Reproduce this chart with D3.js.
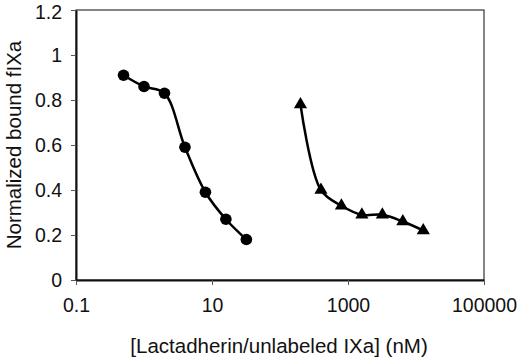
<!DOCTYPE html>
<html><head><meta charset="utf-8">
<script src="https://cdn.jsdelivr.net/npm/d3@7"></script>
<style>body{margin:0;background:#fff}svg{display:block}text{font-family:"Liberation Sans",Arial,sans-serif;fill:#111}</style>
</head><body>
<svg id="c" width="520" height="360"></svg>
<script>
const lactX = [0.5, 1, 2, 4, 8, 16, 32];
const lactY = [0.91, 0.86, 0.83, 0.59, 0.39, 0.27, 0.18];
const ixaX = [200, 400, 800, 1600, 3200, 6400, 12800];
const ixaY = [0.78, 0.40, 0.33, 0.29, 0.29, 0.26, 0.22];
const xTicks = [0.1, 10, 1000, 100000];
const yTicks = [0, 0.2, 0.4, 0.6, 0.8, 1, 1.2];

const svg = d3.select("#c");
const L = 76, R = 484, T = 10, B = 280;
const FS = 20.5, TFS = 19.5;
const x = d3.scaleLog().domain([0.1, 100000]).range([L, R]);
const y = d3.scaleLinear().domain([0, 1.2]).range([B, T]);

svg.append("rect").attr("x", L).attr("y", T).attr("width", R - L).attr("height", B - T)
  .attr("fill", "none").attr("stroke", "#333").attr("stroke-width", 1.2);

const xa = svg.append("g").attr("transform", `translate(0,${B})`)
  .call(d3.axisBottom(x).tickValues(xTicks).tickFormat(d => String(d)).tickSize(5).tickSizeOuter(0).tickPadding(13));
xa.select(".domain").attr("stroke", "#111").attr("stroke-width", 2);
xa.selectAll("line").attr("stroke", "#555");
xa.selectAll("text").attr("font-size", TFS).attr("fill", "#111").attr("font-family", '"Liberation Sans",Arial,sans-serif');

const ya = svg.append("g").attr("transform", `translate(${L},0)`)
  .call(d3.axisLeft(y).tickValues(yTicks).tickFormat(d => String(d)).tickSize(5).tickSizeOuter(0).tickPadding(9));
ya.select(".domain").attr("stroke", "#111").attr("stroke-width", 2);
ya.selectAll("line").attr("stroke", "#555");
ya.selectAll("text").attr("font-size", TFS).attr("fill", "#111").attr("font-family", '"Liberation Sans",Arial,sans-serif')
  .attr("dy", d => d === 1.2 ? "0.45em" : "0.32em");

const line = d3.line().x(d => x(d[0])).y(d => y(d[1])).curve(d3.curveCatmullRom.alpha(0.5));
const s1 = lactX.map((v, i) => [v, lactY[i]]);
const s2 = ixaX.map((v, i) => [v, ixaY[i]]);

[s1, s2].forEach(s => svg.append("path").datum(s).attr("d", line)
  .attr("fill", "none").attr("stroke", "#000").attr("stroke-width", 2.5));

svg.selectAll("circle.m").data(s1).join("circle").attr("class", "m")
  .attr("cx", d => x(d[0])).attr("cy", d => y(d[1])).attr("r", 5.8).attr("fill", "#000");

const tri = d3.symbol().type(d3.symbolTriangle).size(75);
svg.selectAll("path.t").data(s2).join("path").attr("class", "t")
  .attr("transform", d => `translate(${x(d[0])},${y(d[1])})`).attr("d", tri).attr("fill", "#000");

svg.append("text").attr("x", 279).attr("y", 353).attr("text-anchor", "middle")
  .attr("font-size", FS).text("[Lactadherin/unlabeled IXa] (nM)");
svg.append("text").attr("transform", "translate(21,145) rotate(-90)").attr("text-anchor", "middle")
  .attr("font-size", FS).text("Normalized bound fIXa");
</script>
</body></html>
